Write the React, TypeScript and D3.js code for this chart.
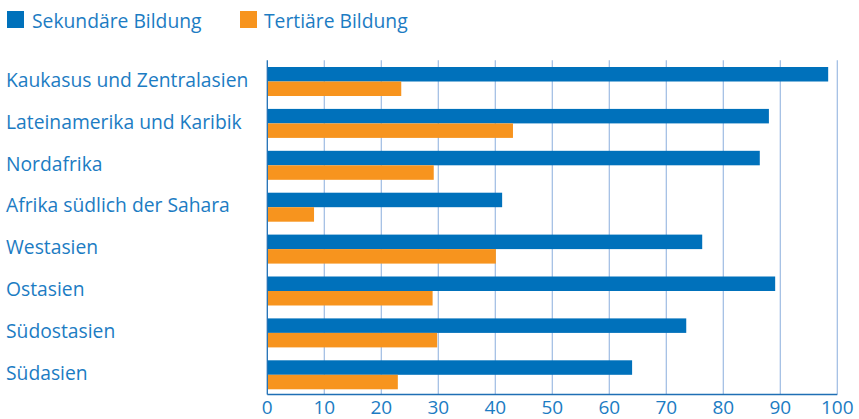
import React from "react";
import * as d3 from "d3";

const categories = [
  "Kaukasus und Zentralasien",
  "Lateinamerika und Karibik",
  "Nordafrika",
  "Afrika südlich der Sahara",
  "Westasien",
  "Ostasien",
  "Südostasien",
  "Südasien",
];
const sekundaer = [98.4, 88.0, 86.4, 41.2, 76.3, 89.1, 73.5, 64.0];
const tertiaer = [23.5, 43.1, 29.2, 8.2, 40.1, 29.0, 29.8, 22.9];
const seriesNames = ["Sekundäre Bildung", "Tertiäre Bildung"];
const xTicks = [0, 10, 20, 30, 40, 50, 60, 70, 80, 90, 100];

const W = 859;
const H = 419;
const BLUE = "#0071bb";
const ORANGE = "#f7941e";
const TEXT = "#1c7cc3";
const GRID = "#9dbbe3";
const FONT = "'Open Sans', 'Noto Sans', sans-serif";

export default function App() {
  const x = d3.scaleLinear().domain([0, 100]).range([267.3, 837.3]);
  const y = d3
    .scaleBand<string>()
    .domain(categories)
    .range([54.1, 402.2])
    .paddingInner(0.308)
    .paddingOuter(0.308);
  const bw = y.bandwidth();
  const sub = d3.scaleBand<number>().domain([0, 1]).range([0, bw]);
  const plotTop = 60.3;
  const plotBottom = 394.5;

  return (
    <svg width={W} height={H} style={{ position: "absolute", left: 0, top: 0, background: "#fff" }}>
      {/* legend */}
      <rect x={7} y={11} width={17} height={17} fill={BLUE} />
      <text x={32} y={27.5} fill={TEXT} fontFamily={FONT} fontSize={19.3}>
        {seriesNames[0]}
      </text>
      <rect x={240} y={11} width={17} height={17} fill={ORANGE} />
      <text x={264} y={27.5} fill={TEXT} fontFamily={FONT} fontSize={19.3}>
        {seriesNames[1]}
      </text>

      {/* gridlines */}
      {xTicks.slice(1).map((t) => (
        <line key={t} x1={x(t)} x2={x(t)} y1={plotTop} y2={plotBottom} stroke={GRID} strokeWidth={1.2} />
      ))}

      {/* bars */}
      {categories.map((c, i) => (
        <g key={c}>
          <rect x={x(0)} y={(y(c) as number) + (sub(0) as number)} width={x(sekundaer[i]) - x(0)} height={sub.bandwidth()} fill={BLUE} />
          <rect x={x(0)} y={(y(c) as number) + (sub(1) as number)} width={x(tertiaer[i]) - x(0)} height={sub.bandwidth()} fill={ORANGE} />
          <text x={6} y={(y(c) as number) + bw / 2 + 5.2} fill={TEXT} fontFamily={FONT} fontSize={19.3}>
            {c}
          </text>
        </g>
      ))}

      {/* axes */}
      <line x1={x(0)} x2={x(0)} y1={plotTop} y2={plotBottom} stroke="#1f6fb5" strokeWidth={1.3} />
      <line x1={x(0)} x2={x(100)} y1={plotBottom} y2={plotBottom} stroke="#1f6fb5" strokeWidth={1.3} />
      {xTicks.map((t) => (
        <text key={t} x={x(t)} y={413.8} fill={TEXT} fontFamily={FONT} fontSize={19} textAnchor="middle">
          {t}
        </text>
      ))}
    </svg>
  );
}
